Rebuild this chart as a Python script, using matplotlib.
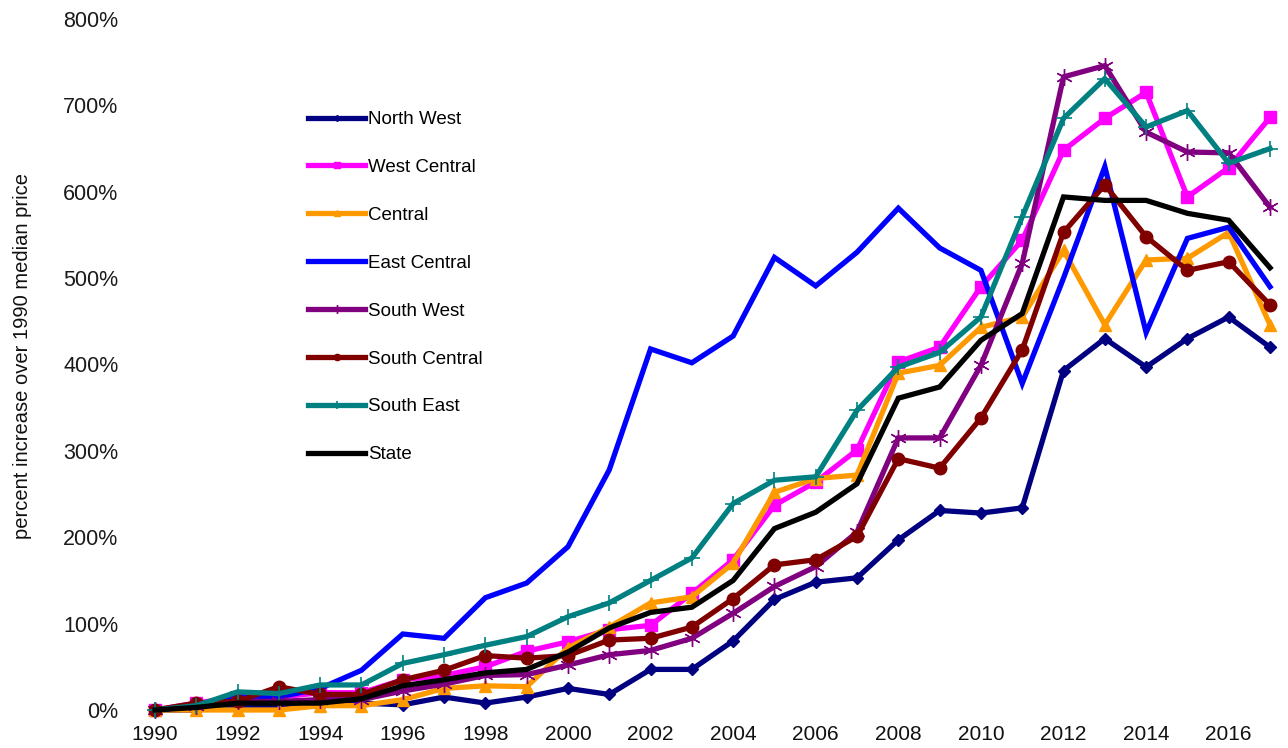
import matplotlib
matplotlib.use("Agg")
import matplotlib.pyplot as plt

years = list(range(1990, 2018))

north_west = [0, 0, 5, 5, 5, 8, 6, 15, 8, 15, 25, 18, 47, 47, 80, 128, 148, 153,
              197, 231, 228, 234, 393, 430, 397, 430, 455, 420]
west_central = [0, 8, 15, 15, 20, 20, 35, 40, 50, 68, 79, 93, 98, 135, 174, 237, 264, 301,
                403, 420, 490, 544, 648, 685, 715, 594, 628, 686]
central = [0, 0, 0, 0, 5, 5, 12, 25, 28, 27, 72, 96, 124, 131, 170, 252, 268, 272,
           390, 399, 443, 455, 532, 446, 521, 523, 553, 446]
east_central = [0, 5, 15, 15, 25, 46, 88, 83, 130, 147, 189, 278, 418, 402, 433, 524, 491, 530,
                581, 535, 509, 378, 500, 629, 437, 546, 559, 490]
south_west = [0, 5, 10, 10, 12, 12, 22, 30, 40, 41, 52, 64, 69, 83, 112, 143, 166, 206,
              315, 315, 399, 517, 733, 746, 669, 646, 645, 582]
south_central = [0, 8, 10, 27, 18, 18, 35, 46, 63, 60, 63, 81, 83, 96, 129, 168, 174, 201,
                 291, 280, 338, 417, 553, 608, 548, 509, 519, 469]
south_east = [0, 5, 21, 19, 29, 29, 54, 64, 75, 85, 108, 124, 150, 176, 239, 266, 270, 347,
              397, 414, 455, 571, 685, 731, 675, 694, 633, 650]
state = [0, 3, 8, 8, 8, 13, 28, 35, 43, 47, 67, 95, 113, 119, 150, 210, 229, 262,
         361, 374, 428, 459, 594, 590, 590, 575, 567, 512]

series_names = ["North West", "West Central", "Central", "East Central",
                "South West", "South Central", "South East", "State"]
series_values = [north_west, west_central, central, east_central,
                 south_west, south_central, south_east, state]
colors = ["#000080", "#FF00FF", "#FF9900", "#0000FF",
          "#800080", "#800000", "#008080", "#000000"]
markers = ["D", "s", "^", None, (6, 2, 0), "o", "+", None]
msizes = [6, 9, 9, 0, 12, 9, 12, 0]
mews = [1, 1, 1, 1, 1, 1, 1.2, 1]

ytick_vals = [0, 100, 200, 300, 400, 500, 600, 700, 800]
xtick_vals = list(range(1990, 2017, 2))

plt.rcParams['font.family'] = ['Liberation Sans', 'DejaVu Sans']

W, H = 1288, 748
fig = plt.figure(figsize=(W / 100, H / 100), dpi=100)
x0, x1 = 1989.6, 2017.4
px_per_year = (1270 - 155) / 27.0
left_px = 155 - (1990 - x0) * px_per_year
width_px = (x1 - x0) * px_per_year
bottom_px = 710
top_px = 19
ax = fig.add_axes([left_px / W, (H - bottom_px) / H, width_px / W, (bottom_px - top_px) / H])

for name, vals, c, m, ms, mew in zip(series_names, series_values, colors, markers, msizes, mews):
    ax.plot(years, vals, color=c, lw=3.8, marker=m, markersize=ms,
            markeredgewidth=mew, markeredgecolor=c, markerfacecolor=c,
            label=name, clip_on=False, solid_joinstyle='miter')

ax.set_xlim(x0, x1)
ax.set_ylim(0, 800)
ax.set_yticks(ytick_vals)
ax.set_yticklabels([f"{v}%" for v in ytick_vals], fontsize=15.5, color='#1a1a1a')
ax.set_xticks(xtick_vals)
ax.set_xticklabels([str(v) for v in xtick_vals], fontsize=15, color='#111111')
ax.tick_params(axis='both', length=0)
ax.tick_params(axis='y', pad=14.5)
ax.tick_params(axis='x', pad=10.5)
for s in ax.spines.values():
    s.set_visible(False)

fig.text(23 / W, 1 - 356 / H, "percent increase over 1990 median price", rotation=90,
         fontsize=14.5, ha='center', va='center', color='#111111')

leg = ax.legend(loc='upper left', bbox_to_anchor=(308 / W, 1 - 111 / H),
                bbox_transform=fig.transFigure, frameon=False, fontsize=13.5,
                handlelength=3.04, handletextpad=0.16, labelspacing=1.64,
                borderpad=0, borderaxespad=0, markerscale=0.5)

fig.savefig("out.png", dpi=100)
